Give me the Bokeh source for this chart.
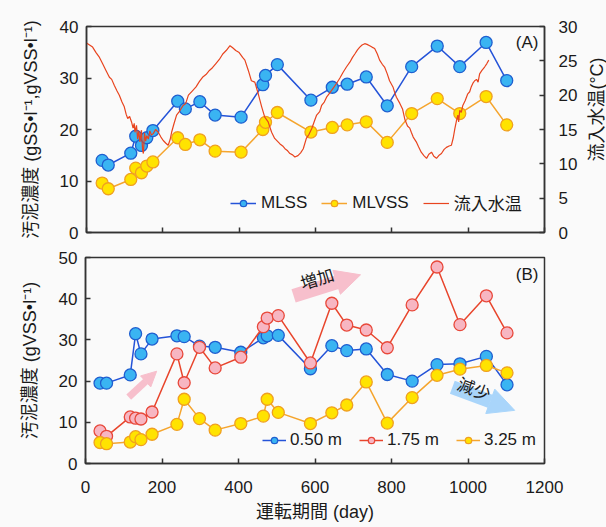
import math
from bokeh.plotting import figure
from bokeh.layouts import column, row
from bokeh.models import (Range1d, LinearAxis, Legend, LegendItem, Label, Arrow,
                          NormalHead, FixedTicker)
from bokeh.embed import file_html
from bokeh.resources import INLINE

# ---------------- data ----------------
# Panel A: MLSS / MLVSS (left axis) and influent temperature (right axis)
days_a = [41, 57, 116, 129, 144, 158, 174, 239, 259, 297, 337, 405, 462, 469, 500,
          588, 644, 683, 733, 788, 852, 919, 978, 1047, 1101]
mlss = [14.0, 13.1, 15.4, 18.7, 16.9, 18.4, 19.8, 25.5, 24.0, 25.4, 22.8, 22.4, 28.7,
        30.5, 32.6, 25.7, 28.2, 28.8, 30.2, 24.6, 32.2, 36.2, 32.2, 36.9, 29.5]
mlvss = [9.6, 8.5, 10.3, 12.5, 11.6, 12.9, 13.7, 18.4, 17.1, 18.0, 15.8, 15.6, 20.0,
         21.4, 23.3, 19.5, 20.4, 20.9, 21.5, 17.5, 23.1, 26.0, 23.1, 26.4, 20.9]

temp_day = [0, 8, 16, 25, 34, 42, 51, 60, 66, 73, 80, 86, 93, 99, 104, 108, 113, 118,
            122, 125, 127, 131, 134, 137, 140, 144, 147, 149, 152, 155, 158, 162, 166,
            170, 175, 181, 188, 195, 201, 208, 214, 219, 223, 229, 236, 243, 253, 260,
            267, 277, 287, 296, 304, 313, 322, 330, 339, 348, 357, 366, 376, 383, 391,
            400, 409, 415, 424, 432, 441, 450, 459, 467, 476, 485, 493, 500, 507, 514,
            520, 527, 533, 540, 546, 554, 561, 568, 576, 583, 590, 597, 603, 611, 616,
            623, 629, 637, 646, 655, 664, 672, 681, 690, 697, 703, 710, 716, 722, 729,
            735, 742, 748, 755, 762, 768, 775, 781, 788, 794, 803, 808, 812, 821, 828,
            834, 841, 847, 851, 856, 864, 870, 877, 884, 891, 897, 904, 910, 917, 923,
            930, 937, 943, 950, 956, 961, 965, 969, 973, 975, 978, 982, 986, 992, 999,
            1004, 1008, 1013, 1017, 1022, 1026, 1030, 1036, 1043, 1049, 1054]
temp_c = [27.6, 27.3, 27.0, 26.2, 25.5, 24.6, 23.6, 22.6, 22.3, 21.4, 20.6, 20.0, 19.0,
          18.3, 17.2, 16.6, 16.9, 16.1, 15.2, 15.9, 14.6, 15.6, 13.6, 14.8, 13.2, 14.9,
          12.0, 11.5, 14.5, 13.3, 14.1, 13.6, 14.8, 14.2, 14.4, 15.0, 14.6, 13.9, 13.4,
          13.0, 12.7, 13.5, 14.6, 15.8, 17.1, 17.6, 18.5, 18.8, 20.0, 20.6, 21.2, 22.0,
          22.6, 23.0, 23.6, 24.0, 24.6, 25.2, 26.0, 26.5, 27.2, 26.9, 26.5, 26.2, 25.5,
          25.1, 23.6, 22.1, 21.9, 20.2, 18.3, 16.8, 16.1, 14.6, 13.7, 13.3, 12.9, 12.6,
          12.2, 11.9, 11.5, 11.3, 11.0, 11.2, 11.6, 12.2, 13.7, 14.3, 15.1, 16.2, 17.1,
          17.6, 18.5, 19.0, 19.7, 20.3, 21.0, 21.7, 22.5, 23.3, 24.1, 24.8, 25.5, 26.0,
          26.6, 27.0, 27.3, 27.5, 27.4, 27.2, 27.0, 26.8, 26.0, 25.1, 24.5, 24.1, 23.1,
          22.1, 21.2, 20.3, 19.7, 18.8, 18.0, 16.5, 15.5, 15.2, 14.6, 13.9, 13.2, 12.5,
          11.7, 11.2, 10.8, 11.4, 11.7, 11.1, 10.8, 11.2, 11.5, 12.1, 12.4, 12.6, 12.7,
          13.8, 15.1, 16.2, 17.1, 16.1, 17.8, 17.5, 18.5, 19.2, 20.2, 20.5, 21.2, 21.8,
          22.1, 22.3, 21.9, 23.1, 23.6, 24.1, 24.6, 25.1]

# Panel B: MLVSS by depth
days_b = [38, 55, 117, 131, 145, 174, 239, 258, 298, 339, 406, 465, 475, 504,
          588, 644, 683, 734, 789, 854, 919, 979, 1048, 1102]
d050 = [19.5, 19.5, 21.5, 31.5, 26.6, 30.2, 31.0, 30.8, 28.5, 28.2, 27.0, 30.5, 31.0,
        31.1, 23.0, 28.6, 27.4, 27.8, 21.6, 20.0, 24.0, 24.2, 26.0, 19.1]
d175 = [7.9, 6.6, 11.3, 11.0, 10.8, 12.5, 26.6, 19.6, 28.2, 23.2, 25.8, 33.2, 35.3,
        35.9, 24.4, 38.9, 33.6, 32.4, 28.1, 38.5, 47.7, 33.7, 40.7, 31.7]
d325 = [5.1, 4.8, 5.2, 6.5, 5.8, 7.1, 9.5, 15.6, 10.9, 8.1, 9.7, 11.5, 15.6, 12.4,
        9.7, 12.3, 14.2, 19.8, 9.8, 16.0, 21.4, 22.9, 23.8, 22.0]

x_ticks = [0, 200, 400, 600, 800, 1000, 1200]
left_ticks_a = [0, 10, 20, 30, 40]
right_ticks_a = [0, 5, 10, 15, 20, 25, 30]
left_ticks_b = [0, 10, 20, 30, 40, 50]

# annotation arrows (start x, start y, end x, end y) in data units of panel B
arrow_up_big = (544, 40.7, 719, 45.8)
arrow_up_small = (113, 16.1, 186, 22.4)
arrow_down = (959, 18.5, 1122, 12.9)

# ---------------- style ----------------
FONT = "Liberation Sans, Noto Sans CJK JP"
BG = "#fafafa"
FRAME = "#333333"
TXT = "#1a1a1a"

BLUE_LINE, BLUE_FILL, BLUE_EDGE = "#2453d8", "#3ab4f2", "#1f5fd0"
YEL_LINE, YEL_FILL, YEL_EDGE = "#f5a52e", "#ffe300", "#f0a020"
PINK_LINE, PINK_FILL, PINK_EDGE = "#e8452c", "#f7b6c2", "#e8483a"
TEMP_LINE = "#e8441e"
ARROW_PINK = "#f7bfcc"
ARROW_BLUE = "#a9d5fa"


def style_axis(ax):
    ax.major_tick_in = 5
    ax.major_tick_out = 0
    ax.minor_tick_in = 0
    ax.minor_tick_out = 0
    ax.axis_line_color = FRAME
    ax.axis_line_width = 1.5
    ax.major_tick_line_color = FRAME
    ax.major_tick_line_width = 1.5
    ax.major_label_text_font = FONT
    ax.major_label_text_font_size = "17px"
    ax.major_label_text_color = TXT
    ax.axis_label_text_font = FONT
    ax.axis_label_text_font_size = "18px"
    ax.axis_label_text_font_style = "normal"
    ax.axis_label_text_color = TXT


def base_fig(width, height, left, right, top, bottom, ymax):
    p = figure(width=width, height=height, x_range=Range1d(0, 1200),
               y_range=Range1d(0, ymax), output_backend="svg", toolbar_location=None,
               min_border_left=left, min_border_right=right, min_border_top=top,
               min_border_bottom=bottom)
    p.background_fill_color = BG
    p.border_fill_color = BG
    p.outline_line_color = FRAME
    p.outline_line_width = 1.5
    p.xgrid.visible = False
    p.ygrid.visible = False
    p.xaxis.ticker = FixedTicker(ticks=x_ticks)
    return p


# ---------------- panel A ----------------
p1 = base_fig(586, 242, 86, 42, 26, 10, 40)
p1.extra_y_ranges = {"temp": Range1d(0, 30)}
p1.yaxis.ticker = FixedTicker(ticks=left_ticks_a)
p1.yaxis.axis_label = "汚泥濃度 (gSS•l⁻¹,gVSS•l⁻¹)"
raxis = LinearAxis(y_range_name="temp", ticker=FixedTicker(ticks=right_ticks_a))
p1.add_layout(raxis, "right")
for ax in p1.axis:
    style_axis(ax)
p1.yaxis[0].major_label_standoff = 8
p1.yaxis[0].axis_label_standoff = 16
raxis.major_label_standoff = 14
p1.xaxis.major_label_overrides = {t: "" for t in x_ticks}
p1.xaxis.major_label_standoff = 0

l1 = p1.line(days_a, mlss, line_color=BLUE_LINE, line_width=1.5)
s1 = p1.scatter(days_a, mlss, size=12, fill_color=BLUE_FILL, line_color=BLUE_EDGE,
                line_width=1.3)
l2 = p1.line(days_a, mlvss, line_color=YEL_LINE, line_width=1.5)
s2 = p1.scatter(days_a, mlvss, size=12, fill_color=YEL_FILL, line_color=YEL_EDGE,
                line_width=1.3)
l3 = p1.line(temp_day, temp_c, line_color=TEMP_LINE, line_width=1.2, y_range_name="temp")

leg1 = Legend(items=[LegendItem(label="MLSS", renderers=[l1, s1]),
                     LegendItem(label="MLVSS", renderers=[l2, s2]),
                     LegendItem(label="流入水温", renderers=[l3])],
              orientation="horizontal", location=(144, 17), margin=0, padding=0,
              spacing=14, glyph_width=26, glyph_height=16, label_standoff=5,
              background_fill_alpha=0, border_line_alpha=0,
              label_text_font=FONT, label_text_font_size="17px", label_text_color=TXT)
p1.add_layout(leg1, "center")

p1.add_layout(Label(x=452, y=190, x_units="screen", y_units="screen", text="(A)",
                    text_align="right", text_baseline="middle", text_font=FONT,
                    text_font_size="17px", text_color=TXT))

# narrow strip at the right holding the rotated right-axis title
p_lab = figure(width=20, height=242, x_range=Range1d(0, 1), y_range=Range1d(0, 1),
               output_backend="svg", toolbar_location=None, x_axis_type=None,
               y_axis_type=None, min_border=0)
p_lab.min_border_left = 0
p_lab.min_border_right = 0
p_lab.min_border_top = 0
p_lab.min_border_bottom = 0
p_lab.background_fill_color = BG
p_lab.border_fill_color = BG
p_lab.outline_line_color = None
p_lab.xgrid.visible = False
p_lab.ygrid.visible = False
p_lab.add_layout(Label(x=10, y=123, x_units="screen", y_units="screen",
                       text="流入水温(°C)", angle=math.pi / 2, text_align="center",
                       text_baseline="middle", text_font=FONT, text_font_size="18px",
                       text_color=TXT))

# ---------------- panel B ----------------
p2 = base_fig(606, 285, 85, 62, 15, 64, 50)
p2.yaxis.ticker = FixedTicker(ticks=left_ticks_b)
p2.yaxis.axis_label = "汚泥濃度 (gVSS•l⁻¹)"
p2.xaxis.axis_label = "運転期間 (day)"
for ax in p2.axis:
    style_axis(ax)
p2.yaxis.major_label_standoff = 8
p2.yaxis.axis_label_standoff = 16
p2.xaxis.major_label_standoff = 17
p2.xaxis.axis_label_standoff = 6

# arrows behind data
for (xs, ys, xe, ye), col, w, hs in [(arrow_up_big, ARROW_PINK, 14, 25),
                                      (arrow_up_small, ARROW_PINK, 7, 15),
                                      (arrow_down, ARROW_BLUE, 14, 26)]:
    p2.add_layout(Arrow(x_start=xs, y_start=ys, x_end=xe, y_end=ye, line_color=col,
                        line_width=w, line_cap="butt", level="underlay",
                        end=NormalHead(size=hs, fill_color=col, line_color=col,
                                       line_width=1)))

b1 = p2.line(days_b, d050, line_color=BLUE_LINE, line_width=1.5)
bs1 = p2.scatter(days_b, d050, size=12, fill_color=BLUE_FILL, line_color=BLUE_EDGE,
                 line_width=1.3)
b2 = p2.line(days_b, d175, line_color=PINK_LINE, line_width=1.5)
bs2 = p2.scatter(days_b, d175, size=12, fill_color=PINK_FILL, line_color=PINK_EDGE,
                 line_width=1.3)
b3 = p2.line(days_b, d325, line_color=YEL_LINE, line_width=1.5)
bs3 = p2.scatter(days_b, d325, size=12, fill_color=YEL_FILL, line_color=YEL_EDGE,
                 line_width=1.3)

leg2 = Legend(items=[LegendItem(label="0.50 m", renderers=[b1, bs1]),
                     LegendItem(label="1.75 m", renderers=[b2, bs2]),
                     LegendItem(label="3.25 m", renderers=[b3, bs3])],
              orientation="horizontal", location=(177, 13), margin=0, padding=0,
              spacing=17, glyph_width=24, glyph_height=16, label_standoff=4,
              background_fill_alpha=0, border_line_alpha=0,
              label_text_font=FONT, label_text_font_size="17px", label_text_color=TXT)
p2.add_layout(leg2, "center")

p2.add_layout(Label(x=453, y=189, x_units="screen", y_units="screen", text="(B)",
                    text_align="right", text_baseline="middle", text_font=FONT,
                    text_font_size="17px", text_color=TXT))
p2.add_layout(Label(x=606, y=44.6, text="増加", angle=0.30, text_align="center",
                    text_baseline="middle", text_font=FONT, text_font_size="17px",
                    text_color=TXT))
p2.add_layout(Label(x=1015, y=17.9, text="減少", angle=-0.36, text_align="center",
                    text_baseline="middle", text_font=FONT, text_font_size="17px",
                    text_color=TXT))

layout = column(row(p1, p_lab, spacing=0), p2, spacing=0)
layout.styles = {"background-color": BG}
open("out.html", "w").write(file_html(layout, INLINE))
